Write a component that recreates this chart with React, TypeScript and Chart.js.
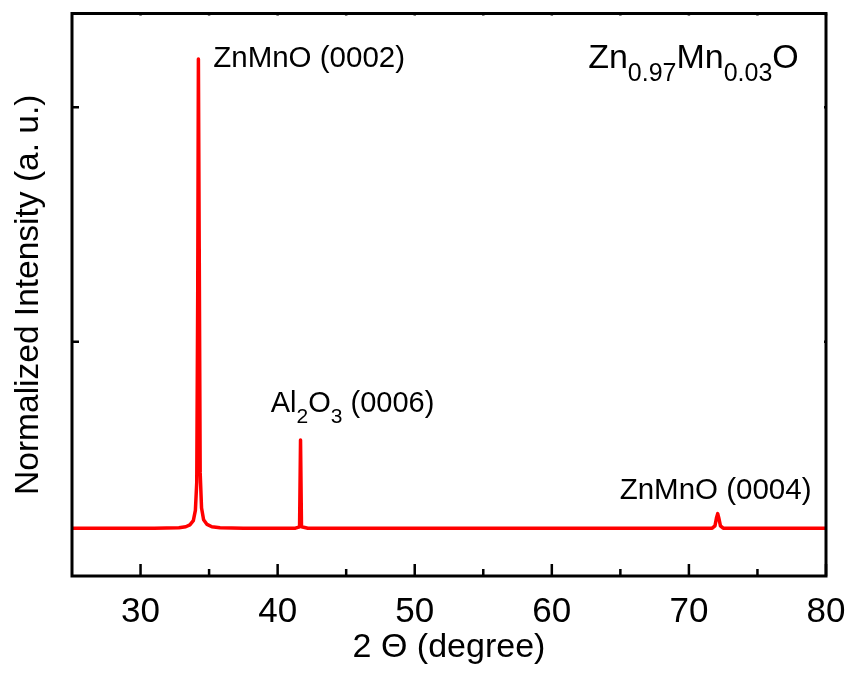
import React, { useEffect, useRef } from "react";
import { Chart, registerables } from "chart.js";

Chart.register(...registerables);

const FONT = "'Liberation Sans', Arial, Helvetica, sans-serif";

// Axis ranges and ticks
const X_MIN = 25;
const X_MAX = 80;
const X_TICKS = [30, 40, 50, 60, 70, 80];
const X_MINOR_TICKS = [35, 45, 55, 65, 75];
const Y_MIN = 0;
const Y_MAX = 1.2;
const Y_TICKS = [0.5, 1.0];

// XRD pattern (2θ in degrees, normalized intensity)
const TWO_THETA = [
  25.0, 27.0, 29.0, 31.0, 32.8, 33.3, 33.6, 33.85, 34.0, 34.1, 34.17, 34.22,
  34.28, 34.35, 34.45, 34.6, 34.85, 35.2, 35.8, 37.5, 39.5, 41.3, 41.6,
  41.67, 41.74, 42.2, 45.0, 48.0, 51.0, 54.0, 57.0, 60.0, 63.0, 66.0, 69.0,
  71.7, 71.9, 72.02, 72.1, 72.18, 72.3, 72.5, 75.0, 78.0, 80.0,
];
const INTENSITY = [
  0.102, 0.102, 0.102, 0.102, 0.103, 0.105, 0.109, 0.118, 0.14, 0.2, 0.6, 1.103,
  0.7, 0.22, 0.145, 0.12, 0.11, 0.105, 0.103, 0.102, 0.102, 0.102, 0.105,
  0.29, 0.105, 0.102, 0.102, 0.102, 0.102, 0.102, 0.102, 0.102, 0.102, 0.102, 0.102,
  0.102, 0.107, 0.125, 0.133, 0.124, 0.107, 0.102, 0.102, 0.102, 0.102,
];

// Peak annotations: [text, isSubscript] segments
const ANNOTATION_TEXTS: [string, boolean][][] = [
  [["ZnMnO (0002)", false]],
  [["Al", false], ["2", true], ["O", false], ["3", true], [" (0006)", false]],
  [["ZnMnO (0004)", false]],
  [["Zn", false], ["0.97", true], ["Mn", false], ["0.03", true], ["O", false]],
];
const ANNOTATION_X = [35.3, 39.5, 64.95, 62.65];
const ANNOTATION_Y = [1.085, 0.35, 0.164, 1.083];
const ANNOTATION_STYLE = [
  { size: 29.5, sub: 21, drop: 11 },
  { size: 29, sub: 21, drop: 11 },
  { size: 29.5, sub: 21, drop: 11 },
  { size: 34, sub: 25, drop: 13 },
];

const framePlugin = {
  id: "frame",
  afterDraw(chart: any) {
    const { ctx, chartArea: a, scales } = chart;
    const x = scales.x;
    const y = scales.y;
    ctx.save();
    ctx.strokeStyle = "#000";
    ctx.lineWidth = 3;
    ctx.strokeRect(a.left, a.top, a.right - a.left, a.bottom - a.top);
    ctx.lineWidth = 2.5;
    ctx.beginPath();
    for (const v of X_TICKS) {
      const px = x.getPixelForValue(v);
      ctx.moveTo(px, a.bottom);
      ctx.lineTo(px, a.bottom - 12);
      ctx.moveTo(px, a.top);
      ctx.lineTo(px, a.top + 2);
    }
    for (const v of X_MINOR_TICKS) {
      const px = x.getPixelForValue(v);
      ctx.moveTo(px, a.bottom);
      ctx.lineTo(px, a.bottom - 7);
      ctx.moveTo(px, a.top);
      ctx.lineTo(px, a.top + 2);
    }
    for (const v of Y_TICKS) {
      const py = y.getPixelForValue(v);
      ctx.moveTo(a.left, py);
      ctx.lineTo(a.left + 7, py);
      ctx.moveTo(a.right, py);
      ctx.lineTo(a.right - 2, py);
    }
    ctx.stroke();
    ctx.restore();
  },
};

const annotationPlugin = {
  id: "peakLabels",
  afterDatasetsDraw(chart: any) {
    const { ctx, scales } = chart;
    ctx.save();
    ctx.fillStyle = "#000";
    ctx.textBaseline = "alphabetic";
    ctx.textAlign = "left";
    ANNOTATION_TEXTS.forEach((parts, i) => {
      const st = ANNOTATION_STYLE[i];
      let px = scales.x.getPixelForValue(ANNOTATION_X[i]);
      const py = scales.y.getPixelForValue(ANNOTATION_Y[i]);
      for (const [t, sub] of parts) {
        ctx.font = `${sub ? st.sub : st.size}px ${FONT}`;
        ctx.fillText(t, px, sub ? py + st.drop : py);
        px += ctx.measureText(t).width;
      }
    });
    ctx.restore();
  },
};

export default function App() {
  const canvasRef = useRef<HTMLCanvasElement>(null);

  useEffect(() => {
    if (!canvasRef.current) return;
    const data = TWO_THETA.map((t, i) => ({ x: t, y: INTENSITY[i] }));
    const chart = new Chart(canvasRef.current, {
      type: "line",
      data: {
        datasets: [
          {
            data,
            borderColor: "#ff0000",
            borderWidth: 3.5,
            pointRadius: 0,
            tension: 0,
            borderJoinStyle: "round",
            borderCapStyle: "round",
          },
        ],
      },
      options: {
        responsive: false,
        animation: false,
        events: [],
        layout: { padding: { top: 13.5, right: 25, left: 0, bottom: 0 } },
        plugins: {
          legend: { display: false },
          tooltip: { enabled: false },
        },
        scales: {
          x: {
            type: "linear",
            min: X_MIN,
            max: X_MAX,
            afterBuildTicks: (s: any) => {
              s.ticks = X_TICKS.map((v) => ({ value: v }));
            },
            afterFit: (s: any) => {
              s.height = 97;
              s.paddingLeft = 0;
              s.paddingRight = 0;
            },
            grid: { display: false },
            border: { display: false },
            ticks: {
              color: "#000",
              font: { size: 35, family: FONT },
              padding: 7,
              maxRotation: 0,
              autoSkip: false,
            },
            title: {
              display: true,
              text: "2 Θ (degree)",
              color: "#000",
              font: { size: 34, family: FONT },
              padding: { top: 0, bottom: 5 },
            },
          },
          y: {
            type: "linear",
            min: Y_MIN,
            max: Y_MAX,
            afterFit: (s: any) => {
              s.width = 72;
              s.paddingTop = 0;
              s.paddingBottom = 0;
            },
            grid: { display: false },
            border: { display: false },
            ticks: { display: false },
            title: {
              display: true,
              text: "Normalized Intensity (a. u.)",
              color: "#000",
              font: { size: 33.5, family: FONT },
              padding: { top: 9, bottom: 0 },
            },
          },
        },
      },
      plugins: [framePlugin, annotationPlugin],
    });
    return () => chart.destroy();
  }, []);

  return (
    <div style={{ position: "absolute", left: 0, top: 0, width: 851, height: 673, background: "#fff" }}>
      <canvas ref={canvasRef} width={851} height={673} />
    </div>
  );
}
